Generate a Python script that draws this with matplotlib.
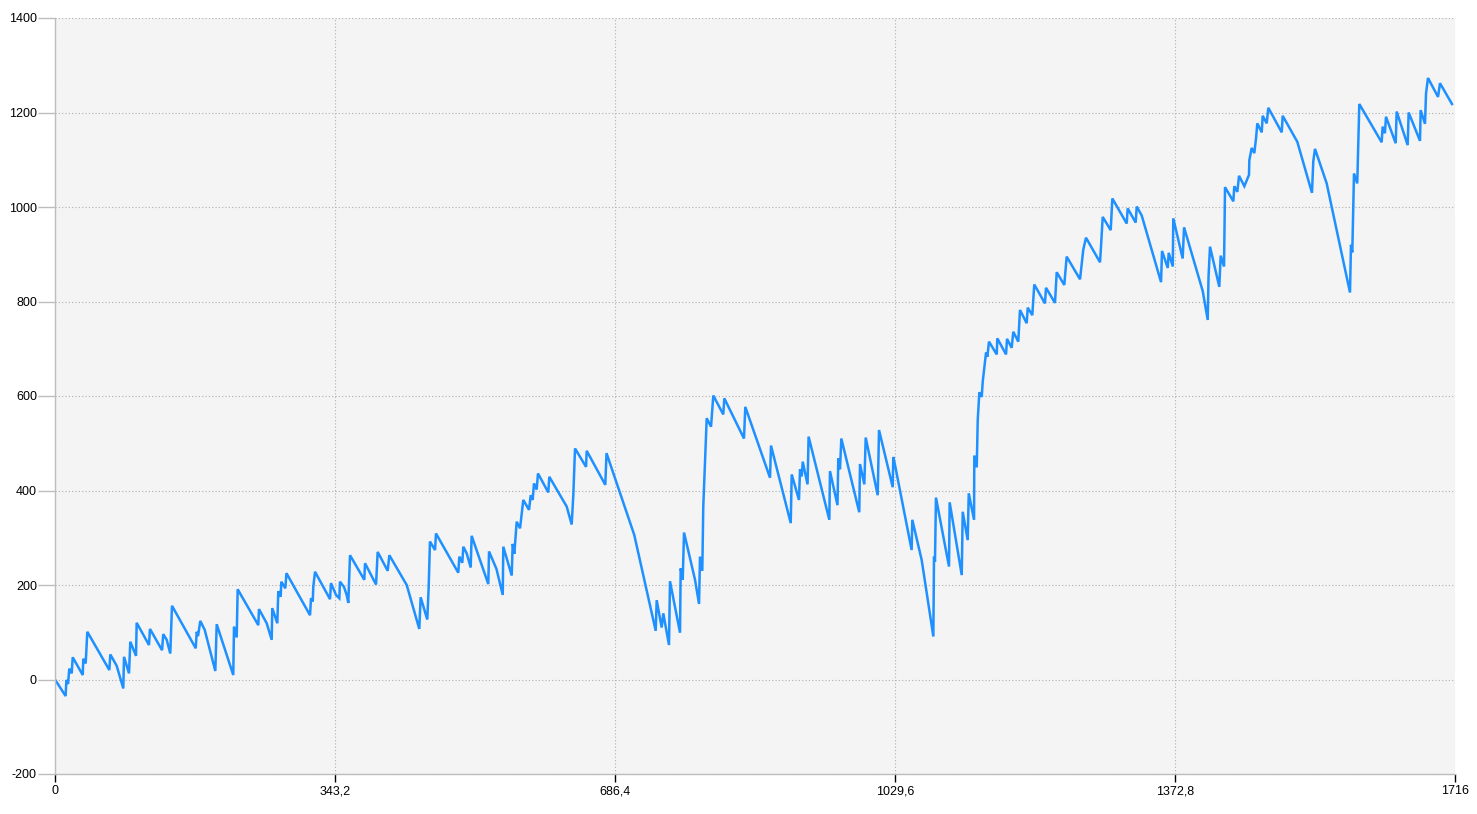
import numpy as np
import matplotlib.pyplot as plt

# equity-style curve, values
xs = [0, 13, 14, 16, 17.5, 20.5, 21.7, 34, 34.7, 37.6, 39.6, 66.6, 67.8, 75.6, 83.7,
      84.6, 90.7, 92.3, 99.3, 100.1, 115.2, 116.4, 131.2, 132.7, 136.9, 141.3, 143.4,
      172.5, 173.7, 175.3, 178.1, 183.5, 196.5, 198.2, 218.5, 219.4, 222.7, 223.9,
      249.2, 250, 259.5, 265.6, 266.3, 272.5, 273.7, 276.6, 277.4, 282.3, 283.7,
      312.6, 313.8, 315.9, 316.6, 318.7, 337.1, 338.3, 344.4, 348.5, 349.3, 354.2,
      357.5, 359.5, 361.6, 379.1, 380, 393.5, 395.5, 407.8, 409.8, 431.1, 446.5,
      448.2, 456.3, 458, 459.6, 465.8, 467, 494.3, 495.6, 499.2, 500.5, 504.6, 509.5,
      510.7, 531.1, 532, 541.1, 548.8, 549.5, 559.8, 561, 563, 565.9, 570, 572, 574,
      581, 583.1, 585.5, 587.1, 590.4, 592, 604.6, 605.9, 627.2, 633.3, 635.3, 637.4,
      650.9, 651.7, 674.5, 676, 710, 736.3, 737.5, 743.6, 745.6, 752.6, 753.8, 766.1,
      766.9, 769.4, 771, 784.5, 789.4, 790.6, 793.4, 794.6, 796.7, 798.8, 804.1,
      806.9, 819.1, 820.4, 844.5, 846.1, 876.4, 877.6, 901.8, 903, 911.9, 913.2,
      915.3, 916.5, 922.4, 923.7, 949.1, 949.9, 959.1, 960.1, 962.2, 963.8, 985.8,
      986.7, 992, 993.7, 1008.4, 1010, 1026.8, 1027.5, 1029.6, 1050, 1050.8, 1062.3,
      1076.6, 1077.4, 1078.6, 1079.8, 1095.8, 1096.6, 1111.4, 1112.6, 1118.7, 1120,
      1126.5, 1126.8, 1129.8, 1131, 1133, 1135.9, 1137.1, 1139.1, 1141.2, 1142.8,
      1144.8, 1154.3, 1155, 1165.7, 1166.9, 1172.6, 1174.6, 1180.7, 1182.8, 1191,
      1192.3, 1197.9, 1200.3, 1213.4, 1214.7, 1225.7, 1227.8, 1237.1, 1240, 1256.4,
      1258.4, 1260.4, 1263.7, 1280.9, 1282.1, 1284.2, 1294, 1296, 1313.6, 1314.8,
      1324.6, 1325.9, 1332, 1355.7, 1356.9, 1363.9, 1365.1, 1370.1, 1370.7, 1382.2,
      1383.9, 1406.8, 1412.9, 1413.9, 1415.7, 1427.1, 1428.8, 1432.9, 1434.1, 1444.3,
      1445.5, 1449.2, 1451.3, 1457.8, 1463.5, 1463.9, 1466.8, 1470, 1472.1, 1473.7,
      1479.1, 1480.3, 1485.2, 1487.2, 1503.6, 1504.8, 1522.7, 1540.7, 1542.3, 1544.4,
      1558.7, 1587.3, 1588.5, 1590.1, 1592.2, 1596.2, 1598.7, 1626.1, 1627.3, 1630.1,
      1631.4, 1643.3, 1644.5, 1658, 1659.2, 1673.1, 1673.9, 1679.2, 1680.5, 1682.9,
      1695.2, 1697.6, 1712.3]
ys = [0, -35, -1, -9.5, 23, 13, 47, 9.5, 44, 34, 101, 20, 53, 29, -19, 48, 13, 80,
      50, 120, 73, 107, 62, 96, 84, 55, 156, 66, 101, 92, 124, 105, 18, 117, 9.5, 112,
      89, 191, 115, 149, 119, 84, 151, 119, 187, 175, 207, 193, 225, 136, 172, 165,
      196, 228, 170, 204, 179, 172, 207, 196, 179, 162, 263, 211, 246, 201, 270, 230,
      263, 200, 107, 174, 127, 195, 292, 274, 309, 226, 260, 247, 281, 267, 237, 304,
      202, 271, 234, 179, 281, 220, 287, 266, 334, 320, 350, 380, 359, 390, 380, 415,
      402, 436, 396, 429, 366, 328, 390, 489, 450, 484, 412, 479, 306, 103, 168, 110,
      140, 73, 208, 99, 235, 211, 311, 211, 160, 260, 230, 366, 459, 553, 535, 601,
      561, 595, 510, 577, 427, 495, 331, 434, 380, 445, 430, 461, 413, 514, 338, 441,
      369, 468, 445, 510, 354, 456, 413, 512, 390, 528, 407, 471, 454, 274, 338, 253,
      91, 260, 249, 385, 239, 375, 221, 355, 295, 394, 338, 474, 449, 549, 608, 598,
      630, 661, 692, 683, 715, 688, 722, 688, 721, 702, 736, 715, 782, 754, 787, 771,
      836, 796, 829, 797, 862, 835, 895, 847, 879, 910, 935, 883, 916, 979, 951, 1018,
      965, 997, 967, 1001, 982, 841, 907, 871, 903, 874, 976, 891, 957, 822, 761, 852,
      916, 831, 897, 874, 1042, 1012, 1044, 1032, 1066, 1044, 1068, 1099, 1125, 1114,
      1145, 1177, 1158, 1193, 1177, 1210, 1158, 1193, 1138, 1030, 1097, 1123, 1050,
      819, 920, 904, 1071, 1050, 1218, 1137, 1170, 1156, 1191, 1135, 1202, 1131, 1200,
      1140, 1205, 1176, 1241, 1273, 1233, 1262, 1218]

xticks = [0, 343.2, 686.4, 1029.6, 1372.8, 1716]
xticklabels = ['0', '343,2', '686,4', '1029,6', '1372,8', '1716']
yticks = [-200, 0, 200, 400, 600, 800, 1000, 1200, 1400]

plt.rcParams['font.family'] = ['Liberation Sans', 'DejaVu Sans']
plt.rcParams['axes.unicode_minus'] = False

fig = plt.figure(figsize=(14.77, 8.14), dpi=100)
ax = fig.add_axes([55/1477, 1-774/814, 1400/1477, 756/814])
ax.set_facecolor('#f4f4f4')

ax.plot(xs, ys, color='#1e90ff', linewidth=1.8, solid_joinstyle='miter')

ax.set_xlim(0, 1716)
ax.set_ylim(-200, 1400)
ax.set_xticks(xticks)
ax.set_xticklabels(xticklabels)
ax.set_yticks(yticks)

ax.grid(True, color='#b0b0b0', linestyle=(0, (1, 2)), linewidth=0.8)
ax.set_axisbelow(True)

for s in ['top', 'right']:
    ax.spines[s].set_visible(False)
for s in ['left', 'bottom']:
    ax.spines[s].set_color('#bdbdbd')
    ax.spines[s].set_linewidth(1)

ax.tick_params(axis='y', length=12, width=1, color='#bdbdbd', pad=1,
               labelsize=9, labelcolor='#000000')
ax.tick_params(axis='x', length=6, width=1, color='#000000', pad=2,
               labelsize=9, labelcolor='#000000')

plt.savefig('out.png', dpi=100)
